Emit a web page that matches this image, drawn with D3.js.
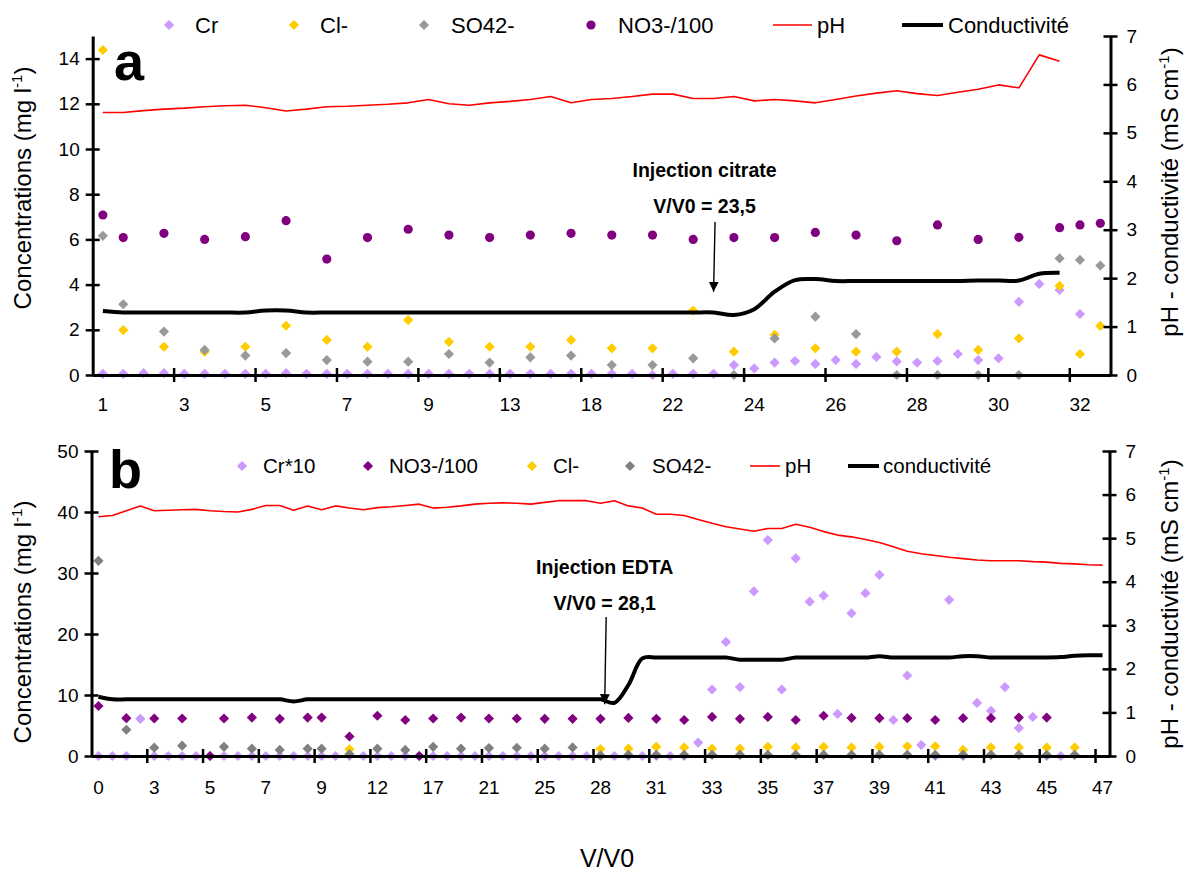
<!DOCTYPE html>
<html><head><meta charset="utf-8">
<script src="https://cdn.jsdelivr.net/npm/d3@7"></script>
<style>body{margin:0;background:#fff;}svg{display:block;font-family:"Liberation Sans",Arial,sans-serif;}</style>
</head><body><svg id="c" width="1189" height="873"></svg>
<script>
const _ = null;
// ---------- Panel a data (category index 0..49) ----------
const tickLabelsA = ["1","3","5","7","9","13","18","22","24","26","28","30","32"];
const crA  = [0.05,0.05,0.08,0.08,0.05,0.05,0.05,0.05,0.05,0.08,0.05,0.05,0.05,0.05,0.05,0.05,0.05,0.05,0.05,0.05,0.05,0.05,0.05,0.05,0.05,0.05,0.05,0.0,0.05,0.05,0.05,0.44,0.29,0.55,0.62,0.49,0.66,0.49,0.80,0.60,0.55,0.62,0.93,0.66,0.74,3.24,4.03,3.76,2.70,_];
const clA  = [14.38,1.99,_,1.25,_,1.03,_,1.25,_,2.18,_,1.55,_,1.25,_,2.43,_,1.47,_,1.25,_,1.25,_,1.55,_,1.18,_,1.18,_,2.85,_,1.03,_,1.78,_,1.18,_,1.03,_,1.03,_,1.81,_,1.11,_,1.62,_,3.94,0.93,2.17];
const so4A = [6.16,3.13,_,1.92,_,1.11,_,0.86,_,0.97,_,0.66,_,0.59,_,0.59,_,0.93,_,0.55,_,0.78,_,0.86,_,0.44,_,0.44,_,0.74,_,0,_,1.62,_,2.58,_,1.81,_,0,_,0,_,0,_,0,_,5.16,5.09,4.84];
const no3A = [7.08,6.08,_,6.27,_,6.0,_,6.12,_,6.83,_,5.13,_,6.08,_,6.45,_,6.19,_,6.08,_,6.19,_,6.27,_,6.19,_,6.19,_,6.0,_,6.08,_,6.08,_,6.31,_,6.19,_,5.94,_,6.64,_,6.0,_,6.09,_,6.52,6.64,6.71];
const phA  = [5.42,5.42,5.46,5.49,5.51,5.54,5.56,5.57,5.52,5.45,5.49,5.54,5.55,5.57,5.59,5.62,5.69,5.60,5.57,5.62,5.65,5.69,5.75,5.62,5.69,5.71,5.75,5.80,5.80,5.71,5.71,5.75,5.66,5.69,5.66,5.62,5.69,5.76,5.82,5.87,5.81,5.77,5.84,5.90,5.99,5.93,6.61,6.48,_,_];
const condA= [1.32,1.29,1.29,1.29,1.29,1.29,1.29,1.29,1.33,1.33,1.29,1.29,1.29,1.29,1.29,1.29,1.29,1.29,1.29,1.29,1.29,1.29,1.29,1.29,1.29,1.29,1.29,1.29,1.29,1.29,1.29,1.24,1.36,1.72,1.96,1.98,1.94,1.94,1.94,1.94,1.94,1.94,1.94,1.95,1.95,1.95,2.09,2.11,_,_];
const leftTicksA = [0,2,4,6,8,10,12,14];
const rightTicks = [0,1,2,3,4,5,6,7];

// ---------- Panel b data (category index 0..72) ----------
const tickLabelsB = ["0","3","5","7","9","12","17","21","25","28","31","33","35","37","39","41","43","45","47"];
const crB  = [0,0,0,6.1,0,0,0,0,0,0, 0,0,0,0,0,0,0,0,0,0, 0,0,0,0,0,0,0,0,0,0, 0,0,0,0,0,0,0,0,0,0,
              0,0,0,2.2,10.9,18.7,11.3,27.0,35.4,10.9, 32.4,25.3,26.3,6.9,23.4,26.7,29.7,5.9,13.2,1.8,
              0,25.6,0,8.7,7.4,11.3,4.6,6.4,0,0, _,_,_];
const no3B = [8.2,_,6.2,_,6.15,_,6.15,_,0,6.15, _,6.3,_,6.1,_,6.3,6.3,_,3.2,_, 6.6,_,5.9,0,6.15,_,6.3,_,6.15,_,
              6.15,_,6.1,_,6.1,_,6.1,_,6.25,_, 6.1,_,5.9,_,6.4,_,6.1,_,6.4,_, 5.9,_,6.6,_,6.25,_,6.2,_,6.2,_,
              5.9,_,6.2,_,6.2,_,6.3,_,6.3,_, _,_,_];
const clB  = [_,_,_,_,_,_,_,_,_,_, _,_,_,_,_,_,_,_,1.1,_, _,_,_,_,_,_,_,_,_,_, _,_,_,_,_,_,1.15,_,1.2,_,
              1.5,_,1.4,_,1.2,_,1.2,_,1.5,_, 1.4,_,1.5,_,1.4,_,1.5,_,1.6,_, 1.6,_,1.0,_,1.4,_,1.4,_,1.4,_, 1.4,_,_];
const so4B = [32.0,_,4.3,_,1.37,_,1.7,_,_,1.5, _,1.2,_,1.0,_,1.2,1.2,_,0.3,_, 1.2,_,1.0,_,1.5,_,1.2,_,1.3,_,
              1.35,_,1.2,_,1.4,_,0.1,_,0.2,_, 0.2,_,0.2,_,0.2,_,0.2,_,0.2,_, 0.2,_,0.2,_,0.2,_,0.2,_,0.2,_,
              0.2,_,0.2,_,0.2,_,0.2,_,0.2,_, 0.2,_,_];
const phB  = [5.49,5.52,5.63,5.74,5.63,5.64,5.65,5.66,5.63,5.61, 5.60,5.66,5.75,5.75,5.64,5.74,5.65,5.74,5.69,5.65,
              5.70,5.72,5.75,5.78,5.69,5.71,5.74,5.78,5.80,5.81, 5.80,5.78,5.82,5.86,5.86,5.86,5.80,5.86,5.74,5.69,
              5.55,5.55,5.52,5.43,5.34,5.26,5.21,5.16,5.22,5.22, 5.32,5.25,5.15,5.07,5.03,4.97,4.90,4.80,4.70,4.64,
              4.60,4.56,4.53,4.50,4.48,4.48,4.48,4.46,4.45,4.42, 4.41,4.39,4.38];
const condB= [1.36,1.30,1.30,1.30,1.30,1.30,1.30,1.30,1.30,1.30, 1.30,1.30,1.30,1.30,1.25,1.30,1.30,1.30,1.30,1.30,
              1.30,1.30,1.30,1.30,1.30,1.30,1.30,1.30,1.30,1.30, 1.30,1.30,1.30,1.30,1.30,1.30,1.30,1.22,1.63,2.24,
              2.26,2.26,2.26,2.26,2.26,2.26,2.21,2.21,2.21,2.21, 2.26,2.26,2.26,2.26,2.26,2.26,2.29,2.26,2.26,2.26,
              2.26,2.26,2.29,2.29,2.26,2.26,2.26,2.26,2.26,2.27, 2.30,2.31,2.31];
const leftTicksB = [0,10,20,30,40,50];

const C = {cr:"#CC99FF", cl:"#FFCC00", so4a:"#999999", so4b:"#808080", no3:"#800080", ph:"#FF0000", cond:"#000000"};

const svg = d3.select("#c");
const diamond = r => `M0,${-r}L${r},0L0,${r}L${-r},0Z`;

function drawPanel(p){
  const g = svg.append("g");
  const n = p.series[0].values.length;
  const x = d3.scaleBand().domain(d3.range(n)).range([p.x0,p.x1]);
  const yL = d3.scaleLinear().domain([0,p.yLmax]).range([p.y0,p.y1]);
  const yR = d3.scaleLinear().domain([0,7]).range([p.y0,p.y1]);
  const cx = i => x(i) + x.bandwidth()/2;

  p.series.forEach(s=>{
    const pts = s.values.map((v,i)=>({v,i})).filter(d=>d.v!=null);
    const sel = g.append("g").selectAll("path").data(pts).join("path")
      .attr("transform",d=>`translate(${cx(d.i)},${yL(d.v)})`)
      .attr("fill",s.color);
    if(s.shape==="circle") sel.attr("d",d3.symbol(d3.symbolCircle,66)());
    else sel.attr("d",diamond(5.1));
  });

  p.lines.forEach(l=>{
    const line = d3.line().defined(d=>d!=null).x((d,i)=>cx(i)).y(d=>yR(d))
      .curve(l.smooth? d3.curveCatmullRom.alpha(0.5) : d3.curveLinear);
    g.append("path").attr("d",line(l.values)).attr("fill","none")
      .attr("stroke",l.color).attr("stroke-width",l.width).attr("stroke-linejoin","round");
  });

  const ax = g.append("g").attr("transform",`translate(${p.x0},0)`)
    .call(d3.axisLeft(yL).tickValues(p.leftTicks).tickFormat(d3.format("d")).tickSize(7).tickSizeOuter(0).tickPadding(6));
  const axr = g.append("g").attr("transform",`translate(${p.x1},0)`)
    .call(d3.axisRight(yR).tickValues(rightTicks).tickFormat(d3.format("d")).tickSize(7).tickSizeOuter(0).tickPadding(9));
  const labelIdx = p.tickLabels.map((t,i)=>i*4);
  const axb = g.append("g").attr("transform",`translate(0,${p.y0})`)
    .call(d3.axisBottom(x).tickValues(labelIdx).tickFormat((d,i)=>p.tickLabels[i]).tickSize(0).tickSizeOuter(0).tickPadding(p.xPad));
  const bounds = d3.range(4,n,4);
  axb.selectAll(".bt").data(bounds).join("line").attr("class","bt")
    .attr("x1",d=>x(d)).attr("x2",d=>x(d)).attr("y1",-7).attr("y2",7)
    .attr("stroke","#000").attr("stroke-width",2.5);
  [ax,axr,axb].forEach(a=>{
    a.select(".domain").attr("stroke","#000").attr("stroke-width",3);
    a.selectAll(".tick line").attr("stroke","#000").attr("stroke-width",2.5);
    a.selectAll("text").attr("font-size",19).attr("font-family","Liberation Sans, Arial, sans-serif").attr("fill","#000");
  });
  ax.selectAll(".tick line").attr("x1",7).attr("x2",-7);
  axr.selectAll(".tick line").attr("x1",-7).attr("x2",7);
  return {x,yL,yR,cx,g};
}

const A = drawPanel({
  x0:92.7, x1:1110.5, y0:375, y1:36, yLmax:15, leftTicks:leftTicksA, tickLabels:tickLabelsA, xPad:23,
  series:[
    {values:crA, color:C.cr, shape:"diamond"},
    {values:clA, color:C.cl, shape:"diamond"},
    {values:so4A, color:C.so4a, shape:"diamond"},
    {values:no3A, color:C.no3, shape:"circle"}
  ],
  lines:[
    {values:phA, color:C.ph, width:1.6, smooth:false},
    {values:condA, color:C.cond, width:4, smooth:true}
  ]
});

const B = drawPanel({
  x0:91.5, x1:1109.5, y0:756, y1:451, yLmax:50, leftTicks:leftTicksB, tickLabels:tickLabelsB, xPad:25,
  series:[
    {values:crB, color:C.cr, shape:"diamond"},
    {values:no3B, color:C.no3, shape:"diamond"},
    {values:clB, color:C.cl, shape:"diamond"},
    {values:so4B, color:C.so4b, shape:"diamond"}
  ],
  lines:[
    {values:phB, color:C.ph, width:1.6, smooth:false},
    {values:condB, color:C.cond, width:4, smooth:true}
  ]
});

function legend(items, y, fs){
  const g = svg.append("g");
  items.forEach(it=>{
    if(it.type==="diamond") g.append("path").attr("d",diamond(5.1)).attr("transform",`translate(${it.mx},${y})`).attr("fill",it.color);
    else if(it.type==="circle") g.append("circle").attr("cx",it.mx).attr("cy",y).attr("r",4.6).attr("fill",it.color);
    else g.append("line").attr("x1",it.mx).attr("x2",it.mx2).attr("y1",y).attr("y2",y).attr("stroke",it.color).attr("stroke-width",it.w);
    g.append("text").attr("x",it.tx).attr("y",y).attr("dy","0.35em").attr("font-size",fs).text(it.label);
  });
}
legend([
  {type:"diamond",color:C.cr,mx:169,tx:195,label:"Cr"},
  {type:"diamond",color:C.cl,mx:294,tx:320,label:"Cl-"},
  {type:"diamond",color:C.so4a,mx:424,tx:451,label:"SO42-"},
  {type:"circle",color:C.no3,mx:591,tx:618,label:"NO3-/100"},
  {type:"line",color:C.ph,mx:773,mx2:812,w:1.6,tx:817,label:"pH"},
  {type:"line",color:"#000",mx:902,mx2:943,w:4,tx:948,label:"Conductivité"}
], 25, 22);
legend([
  {type:"diamond",color:C.cr,mx:242,tx:263,label:"Cr*10"},
  {type:"diamond",color:C.no3,mx:368,tx:389,label:"NO3-/100"},
  {type:"diamond",color:C.cl,mx:532,tx:553,label:"Cl-"},
  {type:"diamond",color:C.so4b,mx:630,tx:652,label:"SO42-"},
  {type:"line",color:C.ph,mx:750,mx2:780,w:1.6,tx:785,label:"pH"},
  {type:"line",color:"#000",mx:848,mx2:879,w:4,tx:883,label:"conductivité"}
], 466, 20.5);

svg.append("text").attr("x",114).attr("y",80).attr("font-size",54).attr("font-weight","bold").text("a");
svg.append("text").attr("x",109).attr("y",488).attr("font-size",54).attr("font-weight","bold").text("b");

function vtitle(xb, yc, main){
  const t = svg.append("text").attr("transform",`translate(${xb},${yc}) rotate(-90)`)
    .attr("text-anchor","middle").attr("font-size",24);
  t.append("tspan").text(main);
  t.append("tspan").attr("dy",-9).attr("font-size",15).text("-1");
  t.append("tspan").attr("dy",9).text(")");
}
vtitle(31, 188, "Concentrations (mg l");
vtitle(31, 622, "Concentrations (mg l");
vtitle(1178, 192, "pH - conductivité (mS cm");
vtitle(1178, 604, "pH - conductivité (mS cm");
svg.append("text").attr("x",607).attr("y",867).attr("text-anchor","middle").attr("font-size",25).text("V/V0");

svg.append("defs").append("marker").attr("id","ah").attr("viewBox","0 0 10 10").attr("refX",10).attr("refY",5)
  .attr("markerWidth",10).attr("markerHeight",10).attr("markerUnits","userSpaceOnUse").attr("orient","auto")
  .append("path").attr("d","M0,0L10,5L0,10Z").attr("fill","#000");
function annot(P, idx, frac, vTop, vBot, l1, l2, yt1, yt2, toff){
  const xa = P.cx(idx) + frac*P.x.bandwidth();
  svg.append("line").attr("x1",xa+1.5).attr("x2",xa).attr("y1",P.yR(vTop)).attr("y2",P.yR(vBot))
    .attr("stroke","#000").attr("stroke-width",1.4).attr("marker-end","url(#ah)");
  svg.append("text").attr("x",xa+toff).attr("y",yt1).attr("text-anchor","middle").attr("font-size",19.5).attr("font-weight","bold").text(l1);
  svg.append("text").attr("x",xa+toff).attr("y",yt2).attr("text-anchor","middle").attr("font-size",19.5).attr("font-weight","bold").text(l2);
}
annot(A, 30, 0, 3.16, 1.72, "Injection citrate", "V/V0 = 23,5", 177, 213, -9);
annot(B, 36, 0.3, 3.19, 1.19, "Injection EDTA", "V/V0 = 28,1", 574, 610, 0);
</script></body></html>
